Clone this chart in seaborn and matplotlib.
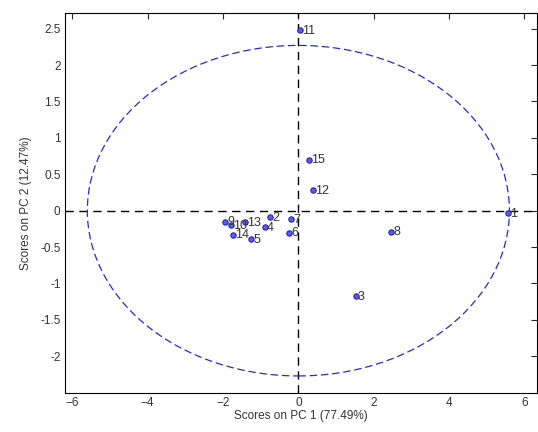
import numpy as np
import pandas as pd
import matplotlib
matplotlib.use("Agg")
import matplotlib.pyplot as plt
from matplotlib.patches import Ellipse
import seaborn as sns

# scores
labels = ["1", "2", "3", "4", "5", "6", "7", "8", "9", "10", "11", "12", "13", "14", "15"]
pc1 = [5.56, -0.76, 1.52, -0.89, -1.25, -0.25, -0.19, 2.47, -1.95, -1.78, 0.03, 0.39, -1.42, -1.73, 0.27]
pc2 = [-0.03, -0.09, -1.17, -0.23, -0.39, -0.30, -0.12, -0.29, -0.15, -0.20, 2.48, 0.28, -0.16, -0.33, 0.70]

# 95% confidence limit ellipse (semi axes)
ell_center = (0.0, 0.0)
ell_a = 5.6
ell_b = 2.27

xticks = [-6, -4, -2, 0, 2, 4, 6]
yticks = [-2, -1.5, -1, -0.5, 0, 0.5, 1, 1.5, 2, 2.5]
ytick_labels = ["-2", "-1.5", "-1", "-0.5", "0", "0.5", "1", "1.5", "2", "2.5"]

df = pd.DataFrame({"label": labels, "pc1": pc1, "pc2": pc2})

sns.set_style("white")
plt.rcParams["font.family"] = ["Liberation Sans", "DejaVu Sans"]

fig = plt.figure(figsize=(5.38, 4.32), dpi=100)
ax = fig.add_axes([0.1203, 0.091, 0.877, 0.878])

ax.axhline(0, color="black", ls=(0, (6, 4)), lw=1.0, zorder=1)
ax.axvline(0, color="black", ls=(0, (6, 4)), lw=1.0, zorder=1)

ax.add_patch(Ellipse(ell_center, 2 * ell_a, 2 * ell_b, fill=False,
                     edgecolor="#2a2ad0", ls=(0, (6, 3)), lw=0.9, zorder=2))

sns.scatterplot(data=df, x="pc1", y="pc2", ax=ax, s=15, color="#5a5aff",
                edgecolor="#1a1a90", linewidth=0.7, zorder=3)

for _, r in df.iterrows():
    ax.annotate(r["label"], (r["pc1"], r["pc2"]), xytext=(1.5, -0.5),
                textcoords="offset points", va="center", ha="left",
                fontsize=9, color="#333333", zorder=4)

ax.set_xlim(-6.2, 6.32)
ax.set_ylim(-2.5, 2.71)
ax.set_xticks(xticks)
ax.set_yticks(yticks)
ax.set_yticklabels(ytick_labels)
ax.set_xlabel("Scores on PC 1 (77.49%)", fontsize=8.5, color="#333333", labelpad=1)
ax.set_ylabel("Scores on PC 2 (12.47%)", fontsize=8.5, color="#333333", labelpad=6)

ax.tick_params(direction="in", length=4, width=0.8, top=True, right=True,
               labelsize=8.5, labelcolor="#333333", pad=3)
for sp in ax.spines.values():
    sp.set_color("black")
    sp.set_linewidth(0.8)

fig.savefig("out.png", dpi=100)
